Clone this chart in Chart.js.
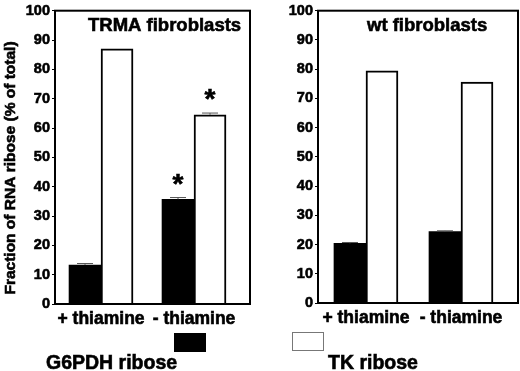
<!DOCTYPE html>
<html>
<head>
<meta charset="utf-8">
<script src="https://cdn.jsdelivr.net/npm/chart.js@4/dist/chart.umd.min.js"></script>
<style>
  body { margin: 0; background: #fff; width: 520px; height: 371px; overflow: hidden; position: relative; }
  .panel { position: absolute; top: 0; width: 260px; height: 371px; }
</style>
</head>
<body>
<div class="panel" style="left:0"><canvas id="trmaChart"></canvas></div>
<div class="panel" style="left:260px"><canvas id="wtChart"></canvas></div>
<script>
const FONT = '"Liberation Sans", Arial, sans-serif';
const HEAVY = 0.6; // scanned original is a bit heavier than Liberation bold

// data
const categories = ['+ thiamine', '- thiamine'];
const yTicks = [0, 10, 20, 30, 40, 50, 60, 70, 80, 90, 100];

const trmaG6pdh = [13.3, 35.7];
const trmaG6pdhErr = [0.5, 0.6];
const trmaG6pdhSig = [false, true];
const trmaTk = [87.0, 64.5];
const trmaTkErr = [0, 0.6];
const trmaTkSig = [false, true];

const wtG6pdh = [20.4, 24.4];
const wtG6pdhErr = [0.3, 0.3];
const wtTk = [79.4, 75.6];
const wtTkErr = [0, 0];

const toPoints = (vals) => vals.map((v, i) => ({ x: i + 1, y: v }));

function heavyText(ctx, text, x, y) {
  ctx.fillText(text, x, y);
  ctx.lineWidth = HEAVY;
  ctx.strokeStyle = '#000';
  ctx.strokeText(text, x, y);
}

// box round the plot, error caps, asterisks, titles and legend key
const extras = {
  id: 'extras',
  afterDatasetsDraw(chart, args, opts) {
    const ctx = chart.ctx;
    const a = chart.chartArea;
    const y = chart.scales.y;
    ctx.save();
    chart.data.datasets.forEach((ds, di) => {
      const meta = chart.getDatasetMeta(di);
      meta.data.forEach((bar, i) => {
        const err = ds.err[i];
        const top = y.getPixelForValue(ds.data[i].y + err);
        if (err > 0) {
          ctx.strokeStyle = '#555';
          ctx.lineWidth = 1;
          ctx.beginPath();
          ctx.moveTo(bar.x, bar.y);
          ctx.lineTo(bar.x, top);
          ctx.moveTo(bar.x - 8, top);
          ctx.lineTo(bar.x + 8, top);
          ctx.stroke();
        }
        if (ds.sig && ds.sig[i]) {
          ctx.fillStyle = '#000';
          ctx.font = 'bold 28px ' + FONT;
          ctx.textAlign = 'center';
          ctx.textBaseline = 'alphabetic';
          heavyText(ctx, '*', bar.x, top - 5);
        }
      });
    });
    ctx.strokeStyle = '#000';
    ctx.lineWidth = 2;
    ctx.strokeRect(a.left, a.top, a.right - a.left, a.bottom - a.top);

    ctx.fillStyle = '#000';
    ctx.textAlign = 'left';
    ctx.textBaseline = 'alphabetic';
    ctx.font = 'bold 18.5px ' + FONT;
    heavyText(ctx, opts.title, opts.titleX, 31);

    if (opts.yTitle) {
      ctx.save();
      ctx.translate(15, 168);
      ctx.rotate(-Math.PI / 2);
      ctx.textAlign = 'center';
      ctx.font = 'bold 15.5px ' + FONT;
      heavyText(ctx, opts.yTitle, 0, 0);
      ctx.restore();
    }

    const k = opts.key;
    ctx.fillStyle = k.fill;
    ctx.fillRect(k.x, k.y, 32, 19);
    if (k.stroke) {
      ctx.strokeStyle = k.stroke;
      ctx.lineWidth = 1;
      ctx.strokeRect(k.x + 0.5, k.y + 0.5, 31, 18);
    }
    ctx.fillStyle = '#000';
    ctx.textAlign = 'left';
    ctx.font = 'bold 19.5px ' + FONT;
    heavyText(ctx, k.label, k.textX, 369);
    ctx.restore();
  }
};

function makeChart(id, g6, g6Err, g6Sig, tk, tkErr, tkSig, layout, extraOpts) {
  new Chart(document.getElementById(id), {
    type: 'bar',
    data: {
      datasets: [
        { label: 'G6PDH ribose', data: toPoints(g6), err: g6Err, sig: g6Sig,
          backgroundColor: '#000', borderColor: '#000', borderWidth: 0 },
        { label: 'TK ribose', data: toPoints(tk), err: tkErr, sig: tkSig,
          backgroundColor: '#fff', borderColor: '#000', borderWidth: 2 }
      ]
    },
    options: {
      responsive: true,
      maintainAspectRatio: false,
      animation: false,
      barThickness: 32,
      layout: { padding: layout.padding },
      plugins: { legend: { display: false }, tooltip: { enabled: false }, extras: extraOpts },
      scales: {
        x: {
          type: 'linear',
          offset: false,
          min: layout.xMin,
          max: layout.xMax,
          grid: { display: false, drawTicks: false, offset: false },
          border: { display: false },
          afterBuildTicks: (s) => { s.ticks = categories.map((c, i) => ({ value: i + 1 })); },
          afterFit: (s) => { s.height = 30; },
          ticks: {
            color: '#000',
            padding: 5,
            maxRotation: 0,
            autoSkip: false,
            textStrokeColor: '#000',
            textStrokeWidth: HEAVY,
            font: { family: FONT, size: 17.5, weight: 'bold' },
            callback: (v) => categories[v - 1]
          }
        },
        y: {
          min: 0,
          max: 100,
          afterBuildTicks: (s) => { s.ticks = yTicks.map((v) => ({ value: v })); },
          afterFit: (s) => { s.width = layout.yWidth; },
          grid: { drawOnChartArea: false, drawTicks: true, tickLength: 3, color: '#000' },
          border: { display: false },
          ticks: {
            color: '#000',
            padding: 2,
            textStrokeColor: '#000',
            textStrokeWidth: HEAVY,
            font: { family: FONT, size: 14.5, weight: 'bold' }
          }
        }
      }
    },
    plugins: [extras]
  });
}

makeChart('trmaChart', trmaG6pdh, trmaG6pdhErr, trmaG6pdhSig, trmaTk, trmaTkErr, trmaTkSig,
  { padding: { top: 4, right: 10, bottom: 37, left: 0 }, xMin: 0.505, xMax: 2.602, yWidth: 55 },
  { title: 'TRMA fibroblasts', titleX: 88, yTitle: 'Fraction of RNA ribose (% of total)',
    key: { x: 174, y: 333, fill: '#000', label: 'G6PDH ribose', textX: 46 } });

makeChart('wtChart', wtG6pdh, wtG6pdhErr, [false, false], wtTk, wtTkErr, [false, false],
  { padding: { top: 4, right: 2, bottom: 38, left: 0 }, xMin: 0.495, xMax: 2.6, yWidth: 58 },
  { title: 'wt fibroblasts', titleX: 107,
    key: { x: 32, y: 332, fill: '#fff', stroke: '#777', label: 'TK ribose', textX: 68 } });
</script>
</body>
</html>
